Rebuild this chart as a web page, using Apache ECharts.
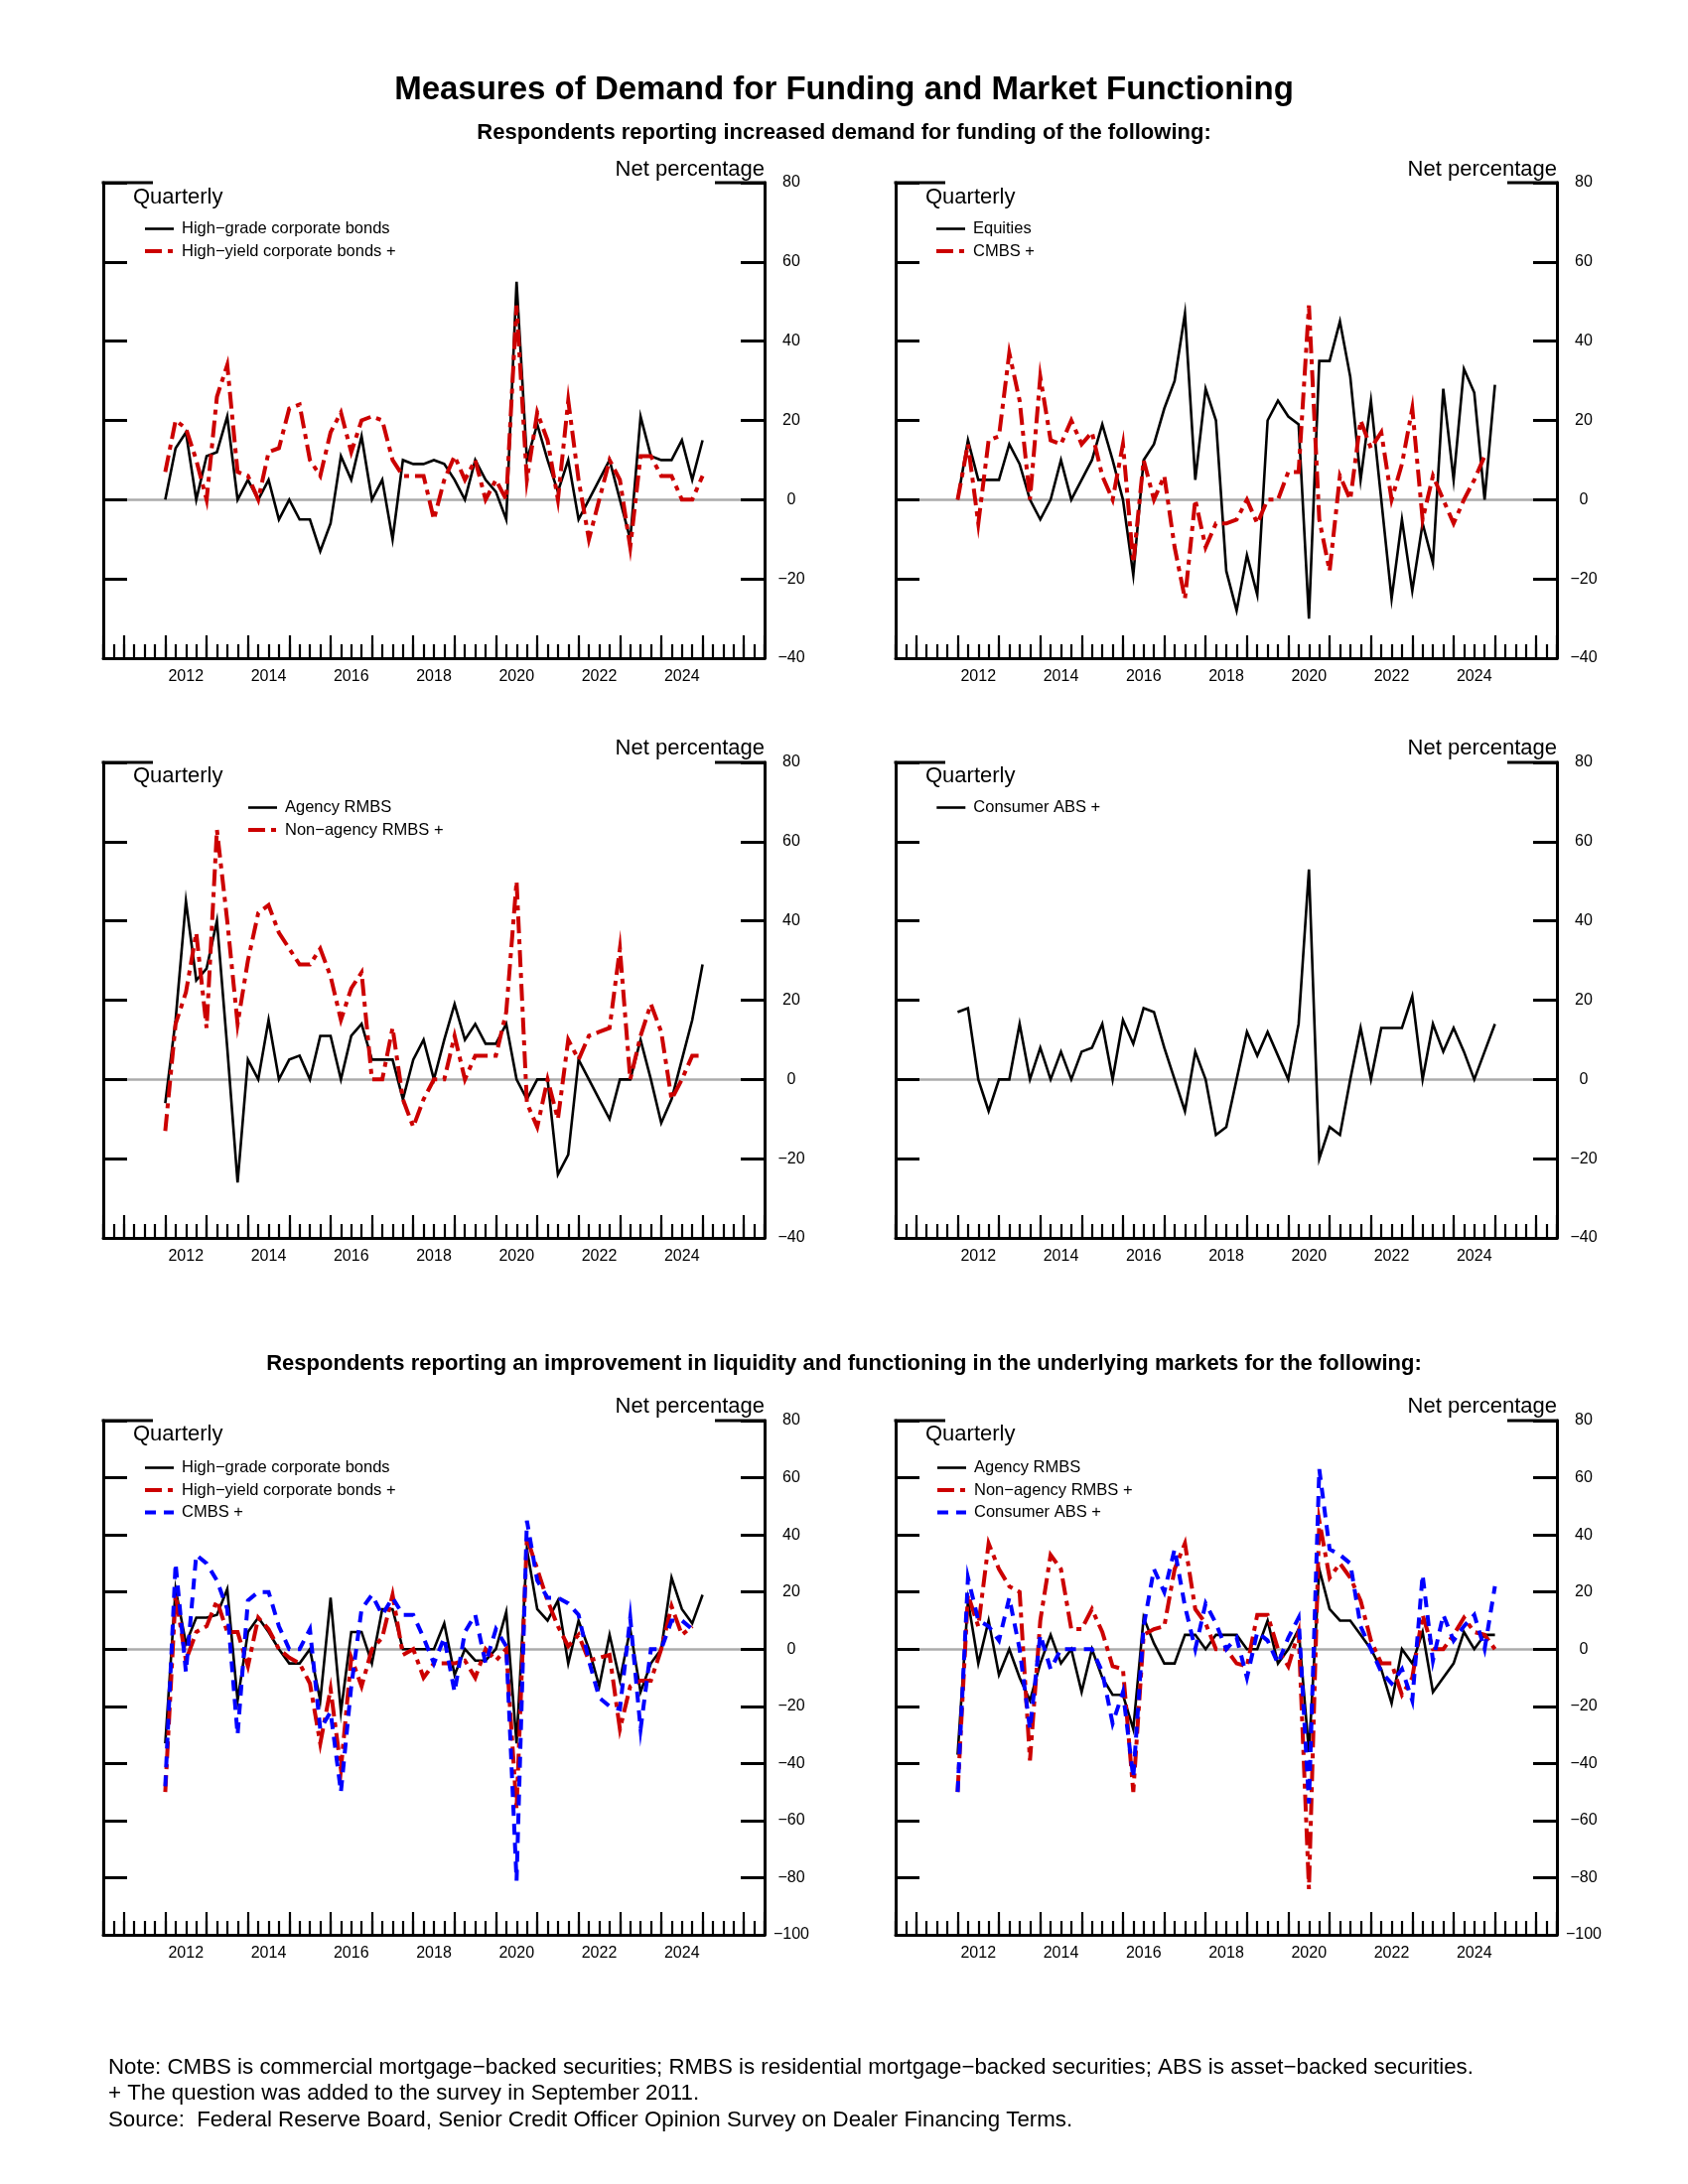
<!DOCTYPE html>
<html><head><meta charset="utf-8">
<script src="https://cdn.jsdelivr.net/npm/echarts@6/dist/echarts.min.js"></script>
<style>html,body{margin:0;padding:0;background:#fff}#c{width:1700px;height:2200px}</style>
</head><body><div id="c"></div><script>
// ---- Data (quarterly, first point at start of 2012 on the axis) ----
const quarters = Array.from({length: 53}, (_, i) => 2012 + i * 0.25);

const p1HighGrade = [0,13,17,0,11,12,21,0,5,0, 5,-5,0,-5,-5,-13,-6,11,5,16, 0,5,-10,10,9,9,10,9,5,0, 10,5,2,-5,55,10,19,10,2,10, -5,0,5,10,0,-10,21,11,10,10, 15,5,15];
const p1HighYield = [7,20,18,10,0,26,34,7,6,0, 12,13,23,24,10,6,17,22,12,20, 21,20,10,6,6,6,-5,5,11,5, 10,0,5,0,49,5,22,15,0,25, 5,-10,0,10,5,-12,11,11,6,6, 0,0,6];
const p2Equities = [0,15,5,5,5,14,9,0,-5,0, 10,0,5,10,19,10,0,-19,10,14, 23,30,47,5,28,20,-18,-28,-14,-24, 20,25,21,19,-30,35,35,45,31,5, 25,0,-25,-5,-23,-6,-16,28,5,33, 27,0,29];
const p2CMBS = [0,14,-6,15,16,37,25,0,31,15, 14,20,14,17,6,0,14,-16,10,0, 6,-12,-25,0,-12,-6,-6,-5,0,-6, 0,0,7,7,49,-5,-18,6,0,20, 13,17,0,9,23,-5,6,0,-6,0, 5,11,null];
const p3Agency = [-6,15,45,25,28,40,8,-26,5,0, 15,0,5,6,0,11,11,0,11,14, 5,5,5,-5,5,10,0,10,19,10, 14,9,9,14,0,-5,0,0,-24,-19, 5,0,-5,-10,0,0,10,0,-11,-5, 5,15,29];
const p3NonAgency = [-13,14,22,37,13,63,40,14,30,42, 44,37,33,29,29,33,26,15,23,27, 0,0,13,-5,-12,-5,0,0,11,0, 6,6,6,17,50,-6,-12,0,-10,10, 5,11,12,13,33,0,11,19,12,-5, 0,6,6];
const p4ConsumerABS = [17,18,0,-8,0,0,14,0,8,0, 7,0,7,8,14,0,15,9,18,17, 8,0,-8,7,0,-14,-12,0,12,6, 12,6,0,14,53,-20,-12,-14,0,13, 0,13,13,13,21,0,14,7,13,7, 0,7,14];
const p5HighGrade = [-33,21,2,11,11,12,21,-18,6,11, 6,0,-5,-5,0,-18,18,-22,6,6, -5,14,14,0,0,0,0,9,-9,0, -4,-4,0,13,-33,35,14,10,17,-5, 10,0,-13,5,-11,7,-15,-5,0,25, 14,9,19];
const p5HighYield = [-50,19,-4,6,8,17,6,6,-6,11, 7,0,-3,-5,-12,-33,-14,-42,-3,-13, 0,4,19,-2,0,-10,-5,-5,-5,-4, -10,0,-4,0,-56,39,28,17,8,1, 5,-4,-3,-2,-28,-13,-11,-11,0,15, 5,8,null];
const p5CMBS = [-48,30,-8,33,30,24,14,-30,17,20, 20,8,0,0,7,-28,-22,-50,-13,14, 19,12,18,12,12,4,-5,4,-15,6, 12,-5,7,1,-81,45,24,18,18,16, 12,-4,-17,-20,-21,11,-28,0,0,10, 10,7,null];
const p6Agency = [-37,17,-5,10,-9,0,-10,-18,-5,5, -5,0,-15,0,-10,-16,-16,-28,11,2, -5,-5,5,5,0,5,5,5,0,0, 10,-5,0,7,-36,28,14,10,10,5, 0,-7,-19,0,-5,6,-15,-10,-5,6, 0,5,5];
const p6NonAgency = [-50,19,8,37,28,22,20,-39,10,33, 28,7,7,14,6,-6,-7,-50,5,7, 8,28,37,14,9,0,0,-5,-6,12, 12,0,-6,6,-84,45,25,30,25,17, 3,-5,-5,-16,-10,12,0,0,5,11, 6,5,0];
const p6ConsumerABS = [-50,25,10,8,3,18,0,-28,5,-7, 0,0,0,0,-8,-26,-15,-45,8,28, 20,35,15,0,16,9,0,4,-10,6, 3,-5,4,11,-54,63,35,33,30,8, 0,-8,-12,-7,-18,26,-4,12,3,8, 12,0,22];

const yearLabels = [2012, 2014, 2016, 2018, 2020, 2022, 2024];

// ---- Layout ----
const FONT = '"Liberation Sans", Arial, Helvetica, sans-serif';
const GW = 666;
const panelsLayout = [
  {left: 104, top: 184, h: 479, ymin: -40, ymax: 80},
  {left: 902, top: 184, h: 479, ymin: -40, ymax: 80},
  {left: 104, top: 768, h: 479, ymin: -40, ymax: 80},
  {left: 902, top: 768, h: 479, ymin: -40, ymax: 80},
  {left: 104, top: 1431, h: 518, ymin: -100, ymax: 80},
  {left: 902, top: 1431, h: 518, ymin: -100, ymax: 80}
];
const STY = {
  black: {color: '#000000', width: 2.6, type: 'solid'},
  red: {color: '#CC0000', width: 4, type: [17, 6, 5, 6]},
  blue: {color: '#0000FF', width: 4, type: [11, 8]}
};
const panels = [
  {legendLeft: 139, series: [['High−grade corporate bonds', p1HighGrade, 'black'], ['High−yield corporate bonds +', p1HighYield, 'red']]},
  {legendLeft: 936, series: [['Equities', p2Equities, 'black'], ['CMBS +', p2CMBS, 'red']]},
  {legendLeft: 243, series: [['Agency RMBS', p3Agency, 'black'], ['Non−agency RMBS +', p3NonAgency, 'red']]},
  {legendLeft: 937, series: [['Consumer ABS +', p4ConsumerABS, 'black']]},
  {legendLeft: 139, series: [['High−grade corporate bonds', p5HighGrade, 'black'], ['High−yield corporate bonds +', p5HighYield, 'red'], ['CMBS +', p5CMBS, 'blue']]},
  {legendLeft: 937, series: [['Agency RMBS', p6Agency, 'black'], ['Non−agency RMBS +', p6NonAgency, 'red'], ['Consumer ABS +', p6ConsumerABS, 'blue']]}
];
const rowY = [
  {net: 171, q: 199, leg: 229},
  {net: 754, q: 782, leg: 812},
  {net: 1417, q: 1445, leg: 1477}
];

const grid = [], xAxis = [], yAxis = [], series = [], legend = [], graphic = [];
const fmtY = v => v < 0 ? '−' + Math.abs(v) : String(v);

panelsLayout.forEach((L, p) => {
  grid.push({left: L.left, top: L.top, width: GW, height: L.h, containLabel: false, outerBoundsMode: 'none'});
  // minor (quarterly) ticks + axis line
  xAxis.push({gridIndex: p, type: 'value', min: 2010.5, max: 2026.5, interval: 0.25, position: 'bottom', z: 4,
    axisLine: {show: true, onZero: false, lineStyle: {color: '#000', width: 3}},
    axisTick: {show: true, inside: true, length: 14, lineStyle: {color: '#000', width: 2.2}},
    axisLabel: {show: false}, splitLine: {show: false}});
  // major (yearly) ticks
  xAxis.push({gridIndex: p, type: 'value', min: 2010.5, max: 2026.5, minInterval: 1, maxInterval: 1, position: 'bottom', z: 4,
    axisLine: {show: false, onZero: false},
    axisTick: {show: true, inside: true, length: 23, lineStyle: {color: '#000', width: 2.2}},
    axisLabel: {show: false}, splitLine: {show: false}});
  // year labels centred within each year (axis shifted half a year)
  xAxis.push({gridIndex: p, type: 'value', min: 2010, max: 2026, interval: 2, position: 'bottom', z: 4,
    axisLine: {show: false, onZero: false}, axisTick: {show: false}, splitLine: {show: false},
    axisLabel: {show: true, margin: 11, fontSize: 16, fontFamily: FONT, color: '#000',
      formatter: v => yearLabels.indexOf(v) >= 0 ? String(v) : ''}});
  yAxis.push({gridIndex: p, type: 'value', min: L.ymin, max: L.ymax, interval: 20, position: 'left', z: 4,
    axisLine: {show: true, onZero: false, lineStyle: {color: '#000', width: 3}},
    axisTick: {show: true, inside: true, length: 24, lineStyle: {color: '#000', width: 3}},
    axisLabel: {show: false}, splitLine: {show: false}});
  yAxis.push({gridIndex: p, type: 'value', min: L.ymin, max: L.ymax, interval: 20, position: 'right', z: 4,
    axisLine: {show: true, onZero: false, lineStyle: {color: '#000', width: 3}},
    axisTick: {show: true, inside: true, length: 24, lineStyle: {color: '#000', width: 3}},
    axisLabel: {show: true, margin: 27, align: 'center', fontSize: 16, fontFamily: FONT, color: '#000', formatter: fmtY},
    splitLine: {show: false}});

  const P = panels[p];
  const names = [];
  P.series.forEach((s, k) => {
    const st = STY[s[2]];
    const nm = s[0] + '|' + p;
    names.push(nm);
    const ser = {
      type: 'line', name: nm, xAxisIndex: 3 * p, yAxisIndex: 2 * p,
      data: quarters.map((q, i) => [q, s[1][i]]),
      showSymbol: false, symbol: 'none', connectNulls: false, z: 3 + k,
      lineStyle: {color: st.color, width: st.width, type: st.type, cap: 'butt', join: 'miter'},
      itemStyle: {color: st.color}, animation: false, silent: true
    };
    if (k === 0) {
      ser.markLine = {silent: true, symbol: ['none', 'none'], z: 1, animation: false,
        label: {show: false}, lineStyle: {color: '#ABABAB', width: 2.6, type: 'solid'},
        data: [{yAxis: 0}]};
    }
    series.push(ser);
  });
  const R = rowY[Math.floor(p / 2)];
  legend.push({data: names, orient: 'vertical', left: P.legendLeft, top: R.leg - 12,
    itemWidth: 29, itemHeight: 16, itemGap: 5.5, selectedMode: false,
    formatter: n => n.split('|')[0],
    itemStyle: {color: 'rgba(0,0,0,0)', borderColor: 'rgba(0,0,0,0)', borderWidth: 0, opacity: 0},
    lineStyle: {width: 'inherit', type: 'inherit', color: 'inherit', cap: 'butt'},
    textStyle: {fontSize: 16.5, fontFamily: FONT, color: '#000', padding: [0, 0, 0, 3]}});

  // texts
  graphic.push({type: 'text', x: L.left + GW, y: R.net, silent: true,
    style: {text: 'Net percentage', font: '22px ' + FONT, fill: '#000', align: 'right', verticalAlign: 'middle', textAlign: 'right', textVerticalAlign: 'middle'}});
  graphic.push({type: 'text', x: L.left + 30, y: R.q, silent: true,
    style: {text: 'Quarterly', font: '22px ' + FONT, fill: '#000', align: 'left', verticalAlign: 'middle', textAlign: 'left', textVerticalAlign: 'middle'}});
  // top corner stubs of the frame
  graphic.push({type: 'line', silent: true, shape: {x1: L.left - 1.5, y1: L.top, x2: L.left + 50, y2: L.top}, style: {stroke: '#000', lineWidth: 3}});
  graphic.push({type: 'line', silent: true, shape: {x1: L.left + GW - 50, y1: L.top, x2: L.left + GW + 1.5, y2: L.top}, style: {stroke: '#000', lineWidth: 3}});
});

function txt(t, x, y, size, bold, align) {
  graphic.push({type: 'text', x: x, y: y, silent: true,
    style: {text: t, font: (bold ? 'bold ' : '') + size + 'px ' + FONT, fill: '#000', align: align, verticalAlign: 'middle', textAlign: align, textVerticalAlign: 'middle'}});
}
txt('Measures of Demand for Funding and Market Functioning', 850, 91, 33, true, 'center');
txt('Respondents reporting increased demand for funding of the following:', 850, 134, 22, true, 'center');
txt('Respondents reporting an improvement in liquidity and functioning in the underlying markets for the following:', 850, 1374, 22, true, 'center');
txt('Note: CMBS is commercial mortgage−backed securities; RMBS is residential mortgage−backed securities; ABS is asset−backed securities.', 109, 2083, 22.3, false, 'left');
txt('+ The question was added to the survey in September 2011.', 109, 2109, 22.3, false, 'left');
txt('Source:  Federal Reserve Board, Senior Credit Officer Opinion Survey on Dealer Financing Terms.', 109, 2136, 22.3, false, 'left');

const chart = echarts.init(document.getElementById('c'), null, {renderer: 'canvas'});
chart.setOption({
  backgroundColor: '#ffffff',
  animation: false,
  textStyle: {fontFamily: FONT},
  grid, xAxis, yAxis, series, legend, graphic
});
</script></body></html>
